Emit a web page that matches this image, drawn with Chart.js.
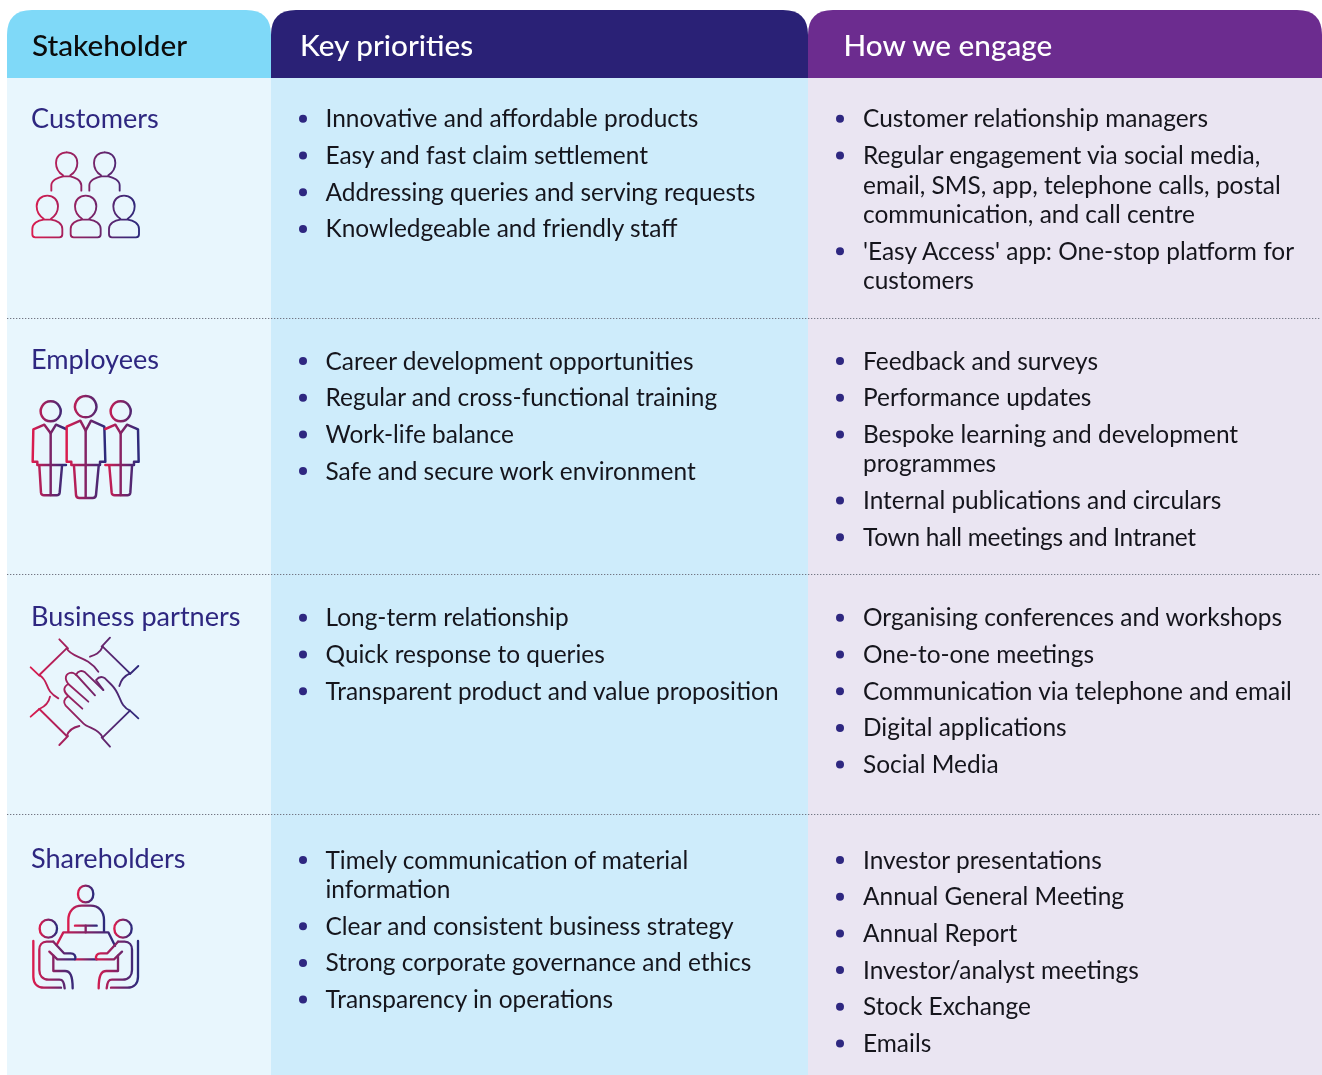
<!DOCTYPE html>
<html><head><meta charset="utf-8">
<style>html,body{margin:0;padding:0;background:#fff;overflow:hidden}canvas{display:block}</style>
<script src="https://cdn.jsdelivr.net/npm/chart.js@4"></script>
</head><body><canvas id="c" width="1322" height="1075"></canvas>
<script>
const headers = ['Stakeholder', 'Key priorities', 'How we engage'];
const stakeholders = ['Customers', 'Employees', 'Business partners', 'Shareholders'];
const priorities = [
  ['Innovative and affordable products', 'Easy and fast claim settlement', 'Addressing queries and serving requests', 'Knowledgeable and friendly staff'],
  ['Career development opportunities', 'Regular and cross-functional training', 'Work-life balance', 'Safe and secure work environment'],
  ['Long-term relationship', 'Quick response to queries', 'Transparent product and value proposition'],
  ['Timely communication of material\ninformation', 'Clear and consistent business strategy', 'Strong corporate governance and ethics', 'Transparency in operations']
];
const engagements = [
  ['Customer relationship managers', 'Regular engagement via social media,\nemail, SMS, app, telephone calls, postal\ncommunication, and call centre', "'Easy Access' app: One-stop platform for\ncustomers"],
  ['Feedback and surveys', 'Performance updates', 'Bespoke learning and development\nprogrammes', 'Internal publications and circulars', 'Town hall meetings and Intranet'],
  ['Organising conferences and workshops', 'One-to-one meetings', 'Communication via telephone and email', 'Digital applications', 'Social Media'],
  ['Investor presentations', 'Annual General Meeting', 'Annual Report', 'Investor/analyst meetings', 'Stock Exchange', 'Emails']
];

const L = {
  top: 10, headBottom: 78, bottom: 1075, left: 7, right: 1322, colEdges: [7, 271, 808, 1322],
  rowFirst: [118.8, 361, 617.8, 860], labelBase: [128, 369, 626, 868], rules: [318, 574.5, 814.5],
  itemStep: 36.7, lineStep: 29.5, bulletX: [303, 840], textX: [325.5, 863]
};
const headColors = ['#7FD9F8', '#2A2176', '#6C2C8F'];
const bodyColors = ['#E8F6FD', '#CEECFB', '#EAE5F2'];
const headText = ['#0B0B0B', '#FFFFFF', '#FFFFFF'];
const ink = '#15151C', navy = '#2E2780';
const FONT = 'Lato, sans-serif';
const tightLines = { 'Town hall meetings and Intranet': '-0.3px' };

function layout(items, y0) {
  let y = y0; const out = [];
  items.forEach(t => {
    const lines = t.split('\n');
    out.push({ y, lines });
    y += (lines.length - 1) * L.lineStep + L.itemStep;
  });
  return out;
}
const priorityLayout = priorities.map((r, i) => layout(r, L.rowFirst[i]));
const engageLayout = engagements.map((r, i) => layout(r, L.rowFirst[i]));
const bulletPts = [];
priorityLayout.flat().forEach(o => bulletPts.push({ x: L.bulletX[0], y: o.y }));
engageLayout.flat().forEach(o => bulletPts.push({ x: L.bulletX[1], y: o.y }));

const bust = c => `M${c} 587c-18 0-32 12-32 32 0 18 10 30 21 37v3c-18 2-34 12-34 28v16c0 6 4 9 9 9h72c5 0 9-3 9-9v-16c0-16-16-26-34-28v-3c11-7 21-19 21-37 0-20-14-32-32-32zM${c-11} 659h22`;
const icons = [
 { ox: 0, oy: 0, w: 5.6, groups: [{ x0: 95, x1: 418, paths: [
   'M200 457c-18 0-32 12-32 32 0 18 10 30 21 37v3c-14 3-35 12-35 27v16',
   'M200 457c18 0 32 12 32 32 0 18-10 30-21 37v3c14 3 33 12 33 27v16M189 529h22',
   'M314 457c-18 0-32 12-32 32 0 18 10 30 21 37v3c-14 3-35 12-35 27v16',
   'M314 457c18 0 32 12 32 32 0 18-10 30-21 37v3c14 3 34 12 34 27v16M303 529h22',
   bust(142), bust(257), bust(372)
 ]}]},
 { ox: 0, oy: 340, w: 7.4, groups: [
   { x0: 98, x1: 198, paths: ['M152 184a30 30 0 1 0 .1 0z',
     'M198 267L168 254 152 280 133 254 100 268 98 365H112V375H198',
     'M152 280V465', 'M118 378L123 458Q124 466 132 466H170Q178 466 179 458L186 378'] },
   { x0: 200, x1: 316, paths: ['M257 168a32 32 0 1 0 .1 0z',
     'M200 260L241 242 257 272 273 242 313 260 316 365H300V375H214V365H200Z',
     'M257 272V470', 'M222 378L228 465Q229 474 238 474H278Q287 474 288 465L296 378'] },
   { x0: 316, x1: 416, paths: ['M362 184a30 30 0 1 0 .1 0z',
     'M316 267L346 254 362 280 381 254 414 268 416 365H402V375H316',
     'M362 280V465', 'M396 378L391 458Q390 466 382 466H344Q336 466 335 458L328 378'] }
 ]},
 { ox: 0, oy: 590, w: 5.6, groups: [{ x0: 92, x1: 416, paths: [
   'M178 148L204 175','M200 175L118 255','M92 232L118 257',
   'M200 175C215 205 260 195 295 245','M118 255C150 275 130 300 175 325',
   'M330 143L305 170','M308 170L390 250','M415 228L390 252','M308 170C300 190 285 195 270 200','M390 250C372 258 362 272 358 288',
   'M92 380L118 357','M118 357L200 438','M178 465L204 438','M118 357C135 350 147 335 150 320','M200 438C205 422 220 412 238 408',
   'M415 385L390 362','M390 362L308 442','M330 470L305 442',
   'M390 362C355 345 365 315 335 285L315 265C305 258 295 262 288 270L310 300',
   'M308 442C295 415 265 415 250 400L197 347C190 338 190 328 205 318L247 356',
   'M205 318C190 305 188 292 205 282L265 335',
   'M205 282C192 265 196 250 215 248C222 248 226 252 232 258L285 316',
   'M228 254C235 242 246 240 255 247L310 300'
 ]}]},
 { ox: 0, oy: 835, w: 7, groups: [
   { x0: 234, x1: 280, paths: ['M257 152c-14 0-23 11-23 25s9 25 23 25 23-11 23-25-9-25-23-25z'] },
   { x0: 205, x1: 312, paths: ['M205 290V255C205 228 222 212 245 212H272C295 212 312 228 312 255V290'] },
   { x0: 170, x1: 345, paths: ['M170 330L190 292H325L345 332'] },
   { x0: 225, x1: 290, paths: ['M225 272H290','M257 272V292','M225 373H290'] },
   { x0: 119, x1: 171, paths: ['M145 254c-15 0-26 12-26 27s11 27 26 27 26-12 26-27-11-27-26-27z'] },
   { x0: 343, x1: 395, paths: ['M369 254c-15 0-26 12-26 27s11 27 26 27 26-12 26-27-11-27-26-27z'] },
   { x0: 100, x1: 228, paths: [
     'M160 320H140C126 320 118 330 118 344V405C118 422 128 434 146 434H178C188 434 192 440 194 460',
     'M100 318V425C100 445 112 458 132 458H183',
     'M160 362V408H195C210 408 218 420 218 460',
     'M148 350L172 373H225C229 362 222 355 212 355H192L160 320'] },
   { x0: 286, x1: 414, paths: [
     'M354 320H374C388 320 396 330 396 344V405C396 422 386 434 368 434H336C326 434 322 440 320 460',
     'M414 318V425C414 445 402 458 382 458H333',
     'M354 362V408H319C304 408 296 420 296 460',
     'M366 350L342 373H289C285 362 292 355 302 355H322L354 320'] }
 ]}
];

function roundTop(ctx, x0, y0, x1, y1, r) {
  ctx.beginPath();
  ctx.moveTo(x0, y1); ctx.lineTo(x0, y0 + r);
  ctx.quadraticCurveTo(x0, y0, x0 + r, y0);
  ctx.lineTo(x1 - r, y0);
  ctx.quadraticCurveTo(x1, y0, x1, y0 + r);
  ctx.lineTo(x1, y1); ctx.closePath();
}

const tablePlugin = {
  id: 'table',
  beforeDatasetsDraw(chart) {
    const { ctx, scales: { x, y } } = chart;
    ctx.save();
    const E = L.colEdges;
    for (let i = 0; i < 3; i++) {
      const a = x.getPixelForValue(E[i]), b = x.getPixelForValue(E[i + 1]);
      ctx.fillStyle = bodyColors[i];
      ctx.fillRect(a, y.getPixelForValue(L.headBottom), b - a, y.getPixelForValue(L.bottom) - y.getPixelForValue(L.headBottom));
      ctx.fillStyle = headColors[i];
      roundTop(ctx, a, y.getPixelForValue(L.top), b, y.getPixelForValue(L.headBottom), 25);
      ctx.fill();
    }
    ctx.fillStyle = '#727683';
    L.rules.forEach(v => {
      const py = Math.floor(y.getPixelForValue(v));
      for (let px = L.left; px < 1320; px += 3) ctx.fillRect(px, py, 1.3, 1);
    });
    ctx.restore();
  },
  afterDatasetsDraw(chart) {
    const { ctx, scales: { x, y } } = chart;
    ctx.save();
    ctx.textBaseline = 'alphabetic'; ctx.textAlign = 'left';
    ctx.fontKerning = 'normal'; ctx.textRendering = 'optimizeLegibility';
    const hx = [32, 300, 843.5];
    ctx.font = '500 29.7px ' + FONT;
    headers.forEach((h, i) => { ctx.fillStyle = headText[i]; ctx.fillText(h, x.getPixelForValue(hx[i]), y.getPixelForValue(56)); });
    ctx.font = '400 27.1px ' + FONT; ctx.fillStyle = navy;
    stakeholders.forEach((s, i) => ctx.fillText(s, x.getPixelForValue(31), y.getPixelForValue(L.labelBase[i])));
    ctx.font = '400 24.45px ' + FONT; ctx.fillStyle = ink;
    [priorityLayout, engageLayout].forEach((col, c) => col.flat().forEach(o => {
      o.lines.forEach((ln, k) => {
        ctx.letterSpacing = tightLines[ln] || '0px';
        ctx.fillText(ln, x.getPixelForValue(L.textX[c]), y.getPixelForValue(o.y + k * L.lineStep + 8.5));
      });
    }));
    ctx.letterSpacing = '0px';
    icons.forEach(ic => {
      ctx.save();
      ctx.translate(ic.ox, ic.oy); ctx.scale(1 / 3, 1 / 3);
      ctx.lineWidth = ic.w; ctx.lineCap = 'round'; ctx.lineJoin = 'round';
      ic.groups.forEach(gr => {
        const g = ctx.createLinearGradient(gr.x0, 0, gr.x1, 0);
        g.addColorStop(0, '#DA1C4E'); g.addColorStop(1, '#2C2A7C');
        ctx.strokeStyle = g;
        gr.paths.forEach(p => ctx.stroke(new Path2D(p)));
      });
      ctx.restore();
    });
    ctx.restore();
  }
};

new Chart(document.getElementById('c'), {
  type: 'scatter',
  data: { datasets: [{ label: 'Bullets', data: bulletPts, pointRadius: 4, pointHoverRadius: 4, pointBackgroundColor: navy, pointBorderWidth: 0 }] },
  options: {
    responsive: false, animation: false, devicePixelRatio: 1,
    layout: { padding: 0, autoPadding: false },
    events: [],
    plugins: { legend: { display: false }, tooltip: { enabled: false }, title: { display: false } },
    scales: {
      x: { type: 'linear', display: false, min: 0, max: 1322 },
      y: { type: 'linear', display: false, min: 0, max: 1075, reverse: true }
    }
  },
  plugins: [tablePlugin]
});
</script></body></html>
